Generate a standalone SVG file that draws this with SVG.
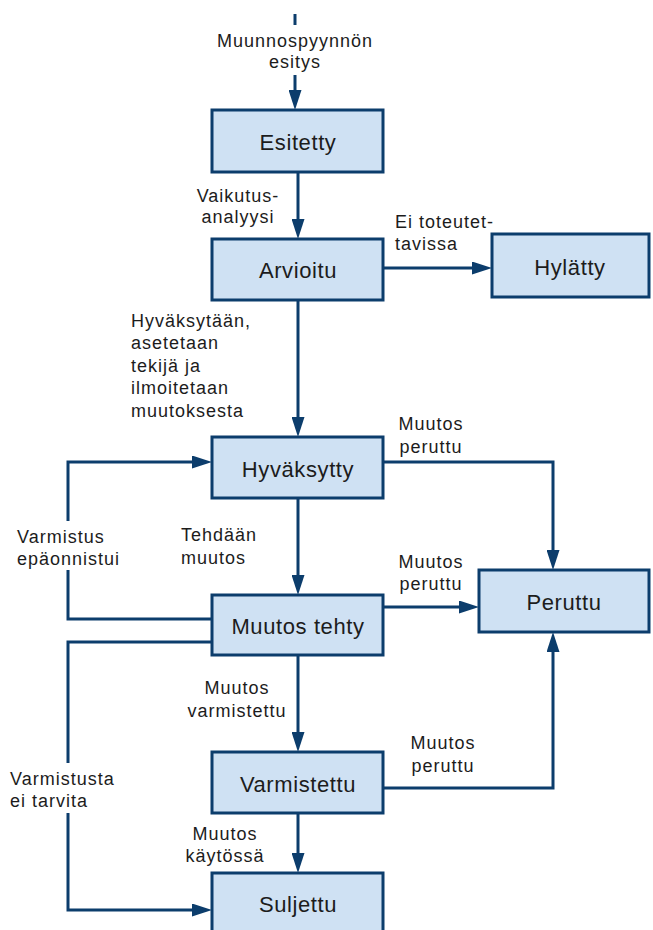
<svg xmlns="http://www.w3.org/2000/svg" width="653" height="930" viewBox="0 0 653 930">
  <defs>
    <style>
      text { font-family: "Liberation Sans", Arial, sans-serif; fill: #1c1c1c; }
      .node rect { fill: #cfe1f3; stroke: #0c3d6c; stroke-width: 3; }
      .node text { font-size: 22px; letter-spacing: 0.6px; text-anchor: middle; }
      .conn path { fill: none; stroke: #0c3d6c; stroke-width: 3; }
      .lbl { font-size: 18px; letter-spacing: 1px; }
      .mid { text-anchor: middle; }
    </style>
    <!-- arrowhead: tip sits 10px beyond the path end -->
    <marker id="arrow" markerUnits="userSpaceOnUse" markerWidth="20" markerHeight="13" refX="10" refY="6.5" orient="auto">
      <path d="M0,0 L20,6.5 L0,13 Z" fill="#0c3d6c"/>
    </marker>
  </defs>

  <rect width="653" height="930" fill="#ffffff"/>

  <!-- connectors -->
  <g id="connectors" class="conn">
    <path d="M295,14 V25"/>
    <path d="M295,75 V100" marker-end="url(#arrow)"/>
    <path d="M298,172 V229" marker-end="url(#arrow)"/>
    <path d="M383,268 H482" marker-end="url(#arrow)"/>
    <path d="M298,300 V427" marker-end="url(#arrow)"/>
    <path d="M383,462 H553 V560" marker-end="url(#arrow)"/>
    <path d="M298,498 V585" marker-end="url(#arrow)"/>
    <path d="M212,619 H68 V570"/>
    <path d="M68,521 V462 H202" marker-end="url(#arrow)"/>
    <path d="M383,607 H469" marker-end="url(#arrow)"/>
    <path d="M212,642 H68 V763"/>
    <path d="M68,813 V910 H202" marker-end="url(#arrow)"/>
    <path d="M298,655 V742" marker-end="url(#arrow)"/>
    <path d="M383,788 H553 V642" marker-end="url(#arrow)"/>
    <path d="M298,813 V863" marker-end="url(#arrow)"/>
  </g>

  <!-- connector labels -->
  <g id="labels" class="lbl">
    <text class="mid" x="295" y="47">Muunnospyynnön</text>
    <text class="mid" x="295" y="68">esitys</text>
    <text class="mid" x="238" y="202">Vaikutus-</text>
    <text class="mid" x="238" y="223">analyysi</text>
    <text x="395" y="228">Ei toteutet-</text>
    <text x="395" y="250">tavissa</text>
    <text x="131" y="327">Hyväksytään,</text>
    <text x="131" y="349">asetetaan</text>
    <text x="131" y="372">tekijä ja</text>
    <text x="131" y="394">ilmoitetaan</text>
    <text x="131" y="417">muutoksesta</text>
    <text class="mid" x="431" y="430">Muutos</text>
    <text class="mid" x="431" y="453">peruttu</text>
    <text x="17" y="543">Varmistus</text>
    <text x="17" y="565">epäonnistui</text>
    <text x="181" y="541">Tehdään</text>
    <text x="181" y="564">muutos</text>
    <text class="mid" x="431" y="568">Muutos</text>
    <text class="mid" x="431" y="590">peruttu</text>
    <text class="mid" x="237" y="694">Muutos</text>
    <text class="mid" x="237" y="717">varmistettu</text>
    <text x="10" y="785">Varmistusta</text>
    <text x="10" y="807">ei tarvita</text>
    <text class="mid" x="443" y="749">Muutos</text>
    <text class="mid" x="443" y="772">peruttu</text>
    <text class="mid" x="225" y="840">Muutos</text>
    <text class="mid" x="225" y="862">käytössä</text>
  </g>

  <!-- state nodes -->
  <g id="esitetty" class="node">
    <rect x="212" y="110" width="171" height="62"/>
    <text x="298" y="150">Esitetty</text>
  </g>
  <g id="arvioitu" class="node">
    <rect x="212" y="239" width="171" height="61"/>
    <text x="298" y="278">Arvioitu</text>
  </g>
  <g id="hylatty" class="node">
    <rect x="492" y="234" width="157" height="63"/>
    <text x="570" y="275">Hylätty</text>
  </g>
  <g id="hyvaksytty" class="node">
    <rect x="212" y="437" width="171" height="61"/>
    <text x="298" y="477">Hyväksytty</text>
  </g>
  <g id="muutos-tehty" class="node">
    <rect x="212" y="595" width="171" height="60"/>
    <text x="298" y="634">Muutos tehty</text>
  </g>
  <g id="peruttu" class="node">
    <rect x="479" y="570" width="170" height="62"/>
    <text x="564" y="610">Peruttu</text>
  </g>
  <g id="varmistettu" class="node">
    <rect x="212" y="752" width="171" height="61"/>
    <text x="298" y="792">Varmistettu</text>
  </g>
  <g id="suljettu" class="node">
    <rect x="212" y="873" width="171" height="62"/>
    <text x="298" y="912">Suljettu</text>
  </g>
</svg>
